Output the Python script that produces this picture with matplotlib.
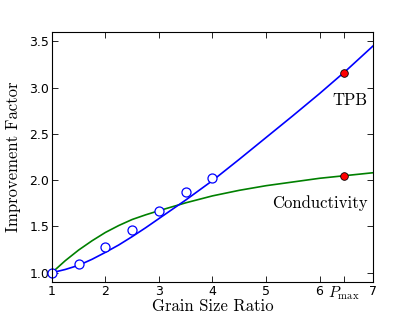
import matplotlib
matplotlib.use("Agg")
import matplotlib.pyplot as plt

# measured points (open circles)
meas_x = [1.0, 1.5, 2.0, 2.5, 3.0, 3.5, 4.0]
meas_y = [1.00, 1.09, 1.28, 1.46, 1.67, 1.87, 2.025]

# TPB model curve
tpb_x = [1.0, 1.25, 1.5, 1.75, 2.0, 2.25, 2.5, 2.75, 3.0, 3.5, 4.0, 4.5, 5.0, 5.5, 6.0, 6.5, 7.0]
tpb_y = [1.00, 1.035, 1.08, 1.145, 1.22, 1.30, 1.39, 1.485, 1.585, 1.785, 1.995, 2.225, 2.46, 2.695, 2.935, 3.185, 3.45]

# conductivity model curve
cond_x = [1.0, 1.25, 1.5, 1.75, 2.0, 2.25, 2.5, 2.75, 3.0, 3.5, 4.0, 4.5, 5.0, 5.5, 6.0, 6.5, 7.0]
cond_y = [1.00, 1.13, 1.245, 1.345, 1.435, 1.51, 1.575, 1.625, 1.67, 1.755, 1.83, 1.89, 1.94, 1.98, 2.02, 2.05, 2.08]

# values at P_max
p_max = 6.46
pmax_y = [3.16, 2.05]

xticks = [1, 2, 3, 4, 5, 6, p_max, 7]
xticklabels = ["1", "2", "3", "4", "5", "6", r"$P_{\max}$", "7"]
yticks = [1.0, 1.5, 2.0, 2.5, 3.0, 3.5]

plt.rcParams["mathtext.fontset"] = "cm"
plt.rcParams["xtick.direction"] = "in"
plt.rcParams["ytick.direction"] = "in"
plt.rcParams["xtick.top"] = True
plt.rcParams["ytick.right"] = True

fig = plt.figure(figsize=(4.15, 3.14), dpi=100)
ax = fig.add_axes([0.125, 0.102, 0.774, 0.796])

ax.plot(cond_x, cond_y, color=(0, 0.5, 0), lw=1.2)
ax.plot(tpb_x, tpb_y, color="b", lw=1.2)
ax.plot(meas_x, meas_y, "o", mfc="white", mec="b", mew=0.9, ms=6.5, clip_on=False)
ax.plot([p_max, p_max], pmax_y, "o", mfc="red", mec="black", mew=0.6, ms=5.5)

ax.text(6.9, 2.86, "TPB", fontsize=12, family="cmr10", ha="right", va="center")
ax.text(6.9, 1.75, "Conductivity", fontsize=12, family="cmr10", ha="right", va="center")

ax.set_xlim(1, 7)
ax.set_ylim(0.9, 3.6)
ax.set_xticks(xticks)
ax.set_xticklabels(xticklabels)
ax.set_yticks(yticks)
ax.tick_params(labelsize=9, length=4, width=0.6, pad=2)
ax.get_xticklabels()[6].set_fontsize(11)

ax.set_xlabel("Grain Size Ratio", fontsize=12, family="cmr10")
ax.xaxis.set_label_coords(0.5, -0.068)
ax.set_ylabel("Improvement Factor", fontsize=12, family="cmr10", labelpad=6)

fig.savefig("out.png", dpi=100)
